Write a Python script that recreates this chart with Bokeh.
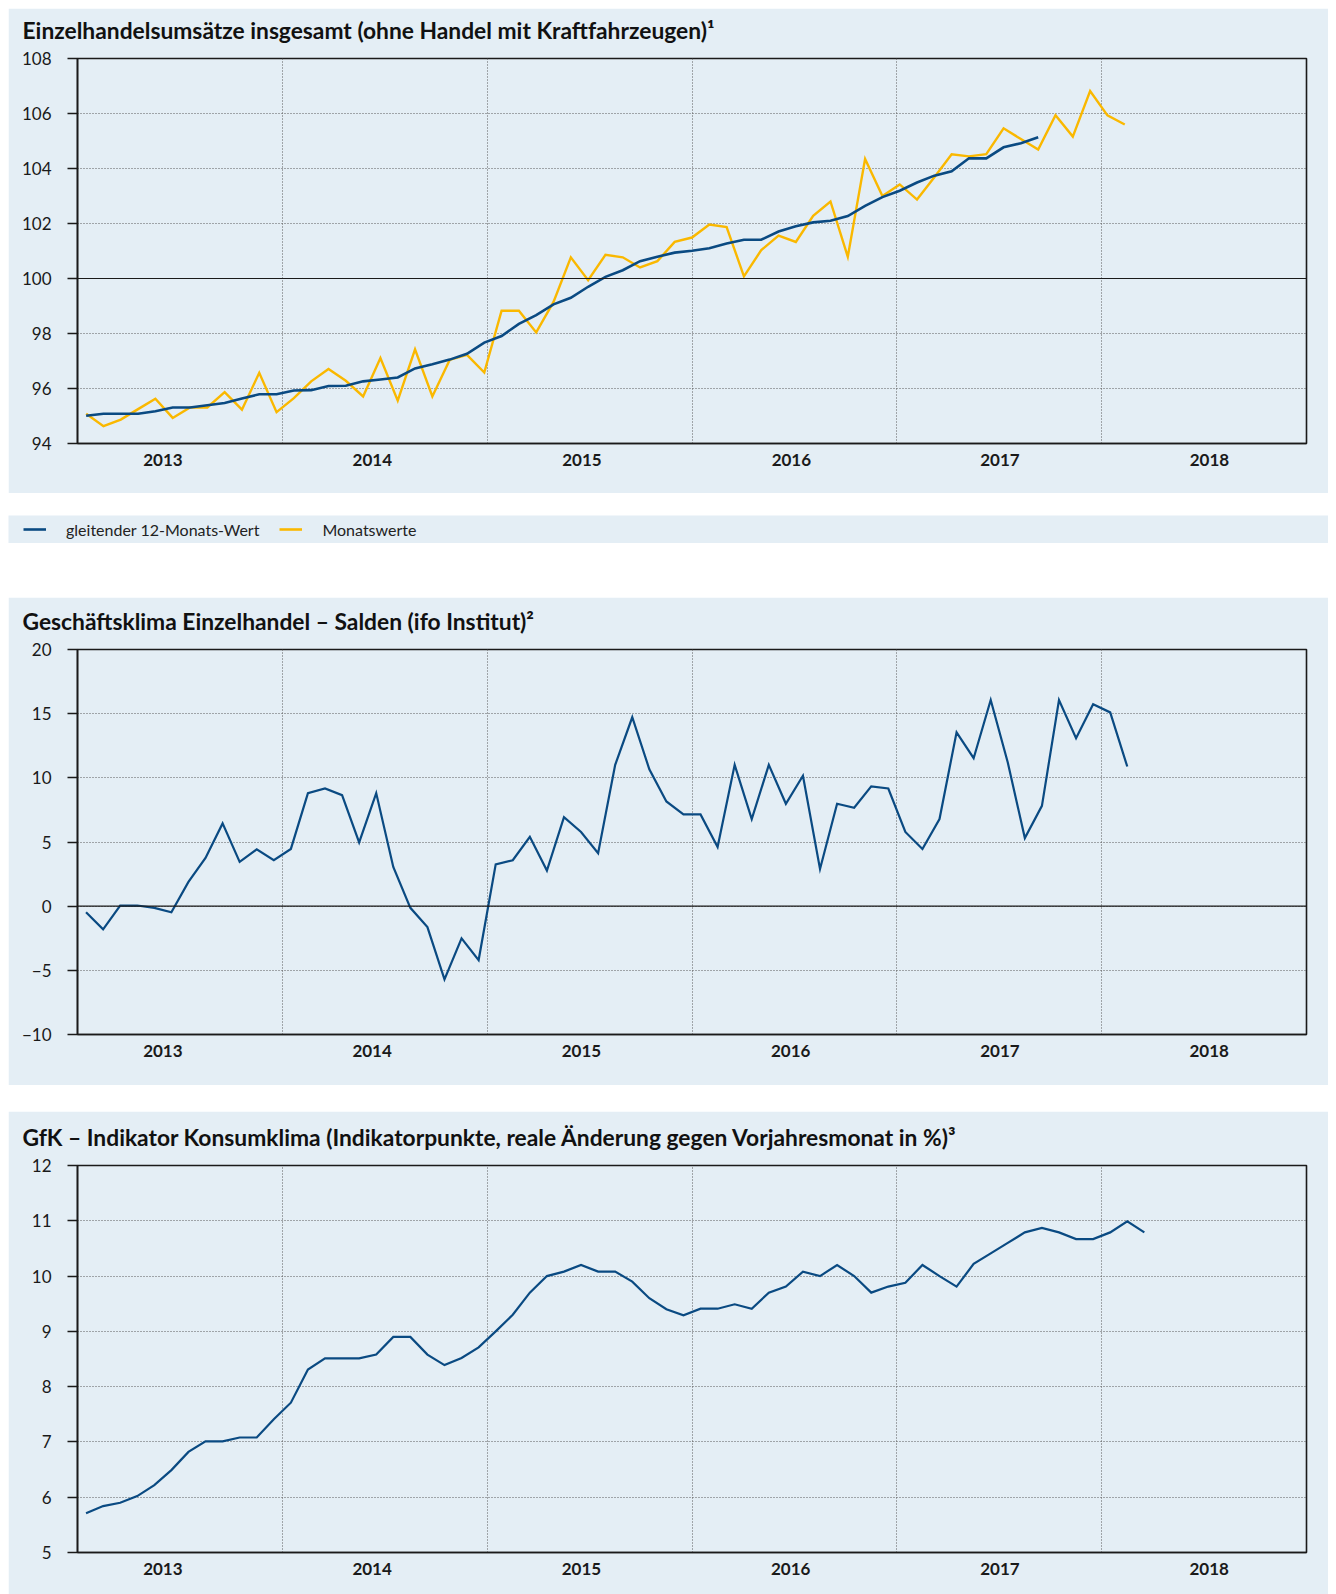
from bokeh.plotting import figure
from bokeh.models import Range1d, FixedTicker, Span, Legend, LegendItem, Spacer, Title
from bokeh.layouts import column
from bokeh.embed import file_html
from bokeh.resources import INLINE

BG = "#E4EEF5"
BLUE = "#0A4A82"
YELLOW = "#FAB800"
FONT = "Lato"

year_labels = ["2013", "2014", "2015", "2016", "2017", "2018"]
# month-index axes (panels 2 and 3)
year_label_pos = [4.5, 16.76, 29.02, 41.28, 53.54, 65.8]
year_bounds = [11.5, 23.5, 35.5, 47.5, 59.5]
# panel 1 uses a slightly wider point spacing in the original
p1_label_pos = [4.435, 16.53, 28.64, 40.74, 52.79, 64.89]
p1_bounds = [11.33, 23.18, 35.0, 46.84, 58.67]

# Einzelhandelsumsaetze - Monatswerte
retail_monthly = [95.08, 94.63, 94.87, 95.25, 95.63, 94.93, 95.31, 95.31, 95.87, 95.23,
                  96.57, 95.14, 95.65, 96.26, 96.71, 96.28, 95.71, 97.11, 95.56, 97.42,
                  95.71, 97.04, 97.22, 96.58, 98.83, 98.83, 98.04, 99.15, 100.77, 99.94,
                  100.86, 100.77, 100.40, 100.63, 101.33, 101.49, 101.96, 101.87, 100.08, 101.03,
                  101.56, 101.33, 102.28, 102.80, 100.79, 104.35, 103.00, 103.42, 102.87, 103.68,
                  104.52, 104.44, 104.52, 105.46, 105.07, 104.69, 105.94, 105.16, 106.82, 105.93,
                  105.60]
# gleitender 12-Monats-Wert
retail_12m = [95.01, 95.08, 95.08, 95.08, 95.17, 95.31, 95.31, 95.39, 95.47, 95.64,
              95.79, 95.79, 95.93, 95.94, 96.09, 96.10, 96.26, 96.33, 96.40, 96.73,
              96.88, 97.05, 97.26, 97.67, 97.91, 98.35, 98.67, 99.06, 99.30, 99.70,
              100.06, 100.30, 100.63, 100.79, 100.94, 101.01, 101.10, 101.27, 101.41, 101.41,
              101.71, 101.90, 102.04, 102.10, 102.27, 102.64, 102.96, 103.19, 103.49, 103.74,
              103.90, 104.37, 104.37, 104.77, 104.92, 105.14]
# ifo Geschaeftsklima Einzelhandel (Salden)
ifo_balance = [-0.47, -1.81, 0.05, 0.05, -0.13, -0.47, 1.89, 3.76, 6.45, 3.45,
               4.43, 3.58, 4.46, 8.81, 9.17, 8.65, 4.97, 8.81, 3.06, -0.13,
               -1.63, -5.70, -2.51, -4.20, 3.26, 3.58, 5.41, 2.77, 6.94, 5.78,
               4.12, 11.01, 14.72, 10.67, 8.16, 7.15, 7.15, 4.61, 11.01, 6.79,
               11.01, 7.98, 10.16, 2.90, 7.98, 7.67, 9.33, 9.17, 5.78, 4.46,
               6.79, 13.55, 11.53, 16.06, 11.19, 5.31, 7.82, 16.06, 13.08, 15.73,
               15.10, 10.88]
# GfK Konsumklima
gfk_indicator = [5.71, 5.84, 5.90, 6.02, 6.22, 6.49, 6.82, 7.01, 7.01, 7.08,
                 7.08, 7.41, 7.71, 8.31, 8.51, 8.51, 8.51, 8.58, 8.90, 8.90,
                 8.58, 8.39, 8.52, 8.71, 9.00, 9.30, 9.70, 10.00, 10.08, 10.20,
                 10.08, 10.08, 9.90, 9.60, 9.40, 9.29, 9.41, 9.41, 9.49, 9.41,
                 9.70, 9.81, 10.08, 10.00, 10.20, 10.00, 9.70, 9.81, 9.88, 10.20,
                 10.00, 9.81, 10.22, 10.41, 10.60, 10.79, 10.87, 10.79, 10.67, 10.67,
                 10.79, 10.99, 10.79]


def make_panel(height, xr, label_pos, bounds, yr, ystep, border_top, border_bottom,
               title, ref_line=None):
    p = figure(width=1320, height=height, x_range=Range1d(xr[0], xr[1]),
               y_range=Range1d(yr[0], yr[1]), output_backend="svg", toolbar_location=None,
               min_border_left=69, min_border_right=22, min_border_top=border_top,
               min_border_bottom=border_bottom)
    p.background_fill_color = BG
    p.border_fill_color = BG
    p.outline_line_color = "#1A1A1A"
    p.outline_line_width = 1.6

    # small spacer between frame and title (stacked closest to the frame)
    p.add_layout(Title(text=" ", text_font_size="2px", standoff=11), "above")
    p.title.text = title
    p.title.text_font = FONT
    p.title.text_font_style = "bold"
    p.title.text_font_size = "22.8px"
    p.title.text_color = "#111111"
    p.title.align = "left"
    p.title.offset = -55
    p.title.standoff = 0

    p.yaxis.ticker = FixedTicker(ticks=list(range(yr[0], yr[1] + 1, ystep)))
    p.yaxis.major_tick_out = 10
    p.yaxis.major_tick_in = 0
    p.yaxis.minor_tick_out = 0
    p.yaxis.minor_tick_in = 0
    p.yaxis.major_tick_line_width = 1.6
    p.yaxis.major_tick_line_color = "#1A1A1A"
    p.yaxis.axis_line_width = 1.6
    p.yaxis.axis_line_color = "#1A1A1A"
    p.yaxis.major_label_standoff = 16
    p.yaxis.major_label_text_font = FONT
    p.yaxis.major_label_text_font_size = "17px"
    p.yaxis.major_label_text_color = "#1A1A1A"

    p.xaxis.ticker = FixedTicker(ticks=label_pos)
    p.xaxis.major_label_overrides = {pos: lab for pos, lab in zip(label_pos, year_labels)}
    p.xaxis.major_tick_out = 0
    p.xaxis.major_tick_in = 0
    p.xaxis.minor_tick_out = 0
    p.xaxis.minor_tick_in = 0
    p.xaxis.axis_line_width = 1.6
    p.xaxis.axis_line_color = "#1A1A1A"
    p.xaxis.major_label_standoff = 10
    p.xaxis.major_label_text_font = FONT
    p.xaxis.major_label_text_font_style = "bold"
    p.xaxis.major_label_text_font_size = "17px"
    p.xaxis.major_label_text_color = "#1A1A1A"

    p.xgrid.ticker = FixedTicker(ticks=bounds)
    for g in (p.xgrid, p.ygrid):
        g.grid_line_color = "#5A5A5A"
        g.grid_line_dash = "1 2"
        g.grid_line_width = 1

    if ref_line is not None:
        p.add_layout(Span(location=ref_line, dimension="width", line_color="#1A1A1A",
                          line_width=1.2))
    return p


p1 = make_panel(485, (-0.5, 70.5), p1_label_pos, p1_bounds, (94, 108), 2, 50, 50,
                "Einzelhandelsumsätze insgesamt (ohne Handel mit Kraftfahrzeugen)¹", 100)
r_month = p1.line(x=list(range(len(retail_monthly))), y=retail_monthly,
                  line_color=YELLOW, line_width=2.4, line_join="miter")
r_12m = p1.line(x=list(range(len(retail_12m))), y=retail_12m,
                line_color=BLUE, line_width=2.6, line_join="miter")

# legend strip
pl = figure(width=1320, height=28, x_range=Range1d(0, 1), y_range=Range1d(0, 1),
            output_backend="svg", toolbar_location=None,
            min_border_left=0, min_border_right=0, min_border_top=0, min_border_bottom=0,
            x_axis_location=None, y_axis_location=None)
try:
    pl.frame_align = False
except Exception:
    pass
pl.background_fill_color = BG
pl.border_fill_color = BG
pl.outline_line_color = None
pl.grid.visible = False
nan = float("nan")
lb = pl.line(x=[nan], y=[nan], line_color=BLUE, line_width=2.6)
ly = pl.line(x=[nan], y=[nan], line_color=YELLOW, line_width=2.6)
legend = Legend(items=[LegendItem(label="gleitender 12-Monats-Wert", renderers=[lb]),
                       LegendItem(label="Monatswerte", renderers=[ly])],
                orientation="horizontal", location=(15, 4), glyph_width=23,
                glyph_height=20, label_height=20, label_standoff=20, spacing=20,
                padding=0, margin=0, background_fill_alpha=0, border_line_color=None,
                label_text_font=FONT, label_text_font_size="16px",
                label_text_color="#222222")
pl.add_layout(legend)

p2 = make_panel(488, (-0.5, 71.5), year_label_pos, year_bounds, (-10, 20), 5, 52, 51,
                "Geschäftsklima Einzelhandel – Salden (ifo Institut)²", 0)
p2.line(x=list(range(len(ifo_balance))), y=ifo_balance, line_color=BLUE,
        line_width=2.2, line_join="miter")

p3 = make_panel(483, (-0.5, 71.5), year_label_pos, year_bounds, (5, 12), 1, 54, 42,
                "GfK – Indikator Konsumklima (Indikatorpunkte, reale Änderung gegen Vorjahresmonat in %)³")
p3.line(x=list(range(len(gfk_indicator))), y=gfk_indicator, line_color=BLUE,
        line_width=2.2, line_join="miter")

layout = column(p1, Spacer(width=1320, height=22), pl, Spacer(width=1320, height=54),
                p2, Spacer(width=1320, height=26), p3, margin=(8, 0, 0, 8))

open("out.html", "w").write(file_html(layout, INLINE))
